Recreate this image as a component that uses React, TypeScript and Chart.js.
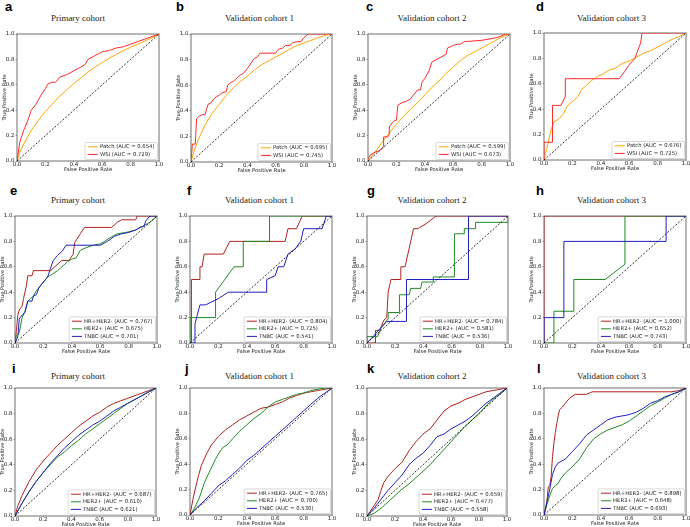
import React, { useEffect, useRef } from "react";
import { Chart, registerables } from "chart.js";

Chart.register(...registerables);

type Pt = [number, number];

// ---------- text / categories ----------
const xAxisTitle = "False Positive Rate";
const yAxisTitle = "True Positive Rate";
const tickValues = [0, 0.2, 0.4, 0.6, 0.8, 1.0];
const cohortTitles = ["Primary cohort", "Validation cohort 1", "Validation cohort 2", "Validation cohort 3"];
const panelLetters = ["a", "b", "c", "d", "e", "f", "g", "h", "i", "j", "k", "l"];
const modelNames = ["Patch", "WSI"];
const subtypeNames = ["HR+HER2-", "HER2+", "TNBC"];

// ---------- AUC values ----------
const aucA = [0.654, 0.729];
const aucB = [0.695, 0.745];
const aucC = [0.599, 0.673];
const aucD = [0.676, 0.725];
const aucE = [0.767, 0.675, 0.701];
const aucF = [0.804, 0.725, 0.541];
const aucG = [0.784, 0.581, 0.536];
const aucH = [1.0, 0.652, 0.743];
const aucI = [0.687, 0.61, 0.621];
const aucJ = [0.765, 0.7, 0.53];
const aucK = [0.659, 0.477, 0.558];
const aucL = [0.898, 0.648, 0.693];

// ---------- ROC curves [FPR, TPR] ----------
const aPatch: Pt[] = [[0,0],[0.02,0.07],[0.05,0.14],[0.1,0.24],[0.15,0.32],[0.2,0.39],[0.25,0.45],[0.3,0.51],[0.35,0.56],[0.4,0.61],[0.45,0.655],[0.5,0.7],[0.55,0.74],[0.6,0.775],[0.65,0.81],[0.7,0.84],[0.75,0.87],[0.8,0.895],[0.85,0.92],[0.9,0.945],[0.95,0.97],[1,1]];
const aWsi: Pt[] = [[0,0],[0.02,0.15],[0.05,0.25],[0.08,0.33],[0.1,0.4],[0.13,0.44],[0.15,0.48],[0.17,0.52],[0.2,0.57],[0.22,0.61],[0.25,0.62],[0.27,0.62],[0.28,0.63],[0.3,0.66],[0.35,0.68],[0.4,0.71],[0.45,0.74],[0.48,0.76],[0.5,0.8],[0.55,0.83],[0.6,0.86],[0.65,0.87],[0.7,0.89],[0.75,0.9],[0.8,0.92],[0.85,0.94],[0.9,0.96],[0.95,0.98],[1,1]];

const bPatch: Pt[] = [[0,0],[0.02,0.08],[0.05,0.17],[0.1,0.29],[0.15,0.38],[0.2,0.45],[0.25,0.52],[0.3,0.58],[0.35,0.63],[0.4,0.67],[0.45,0.72],[0.5,0.76],[0.55,0.79],[0.6,0.82],[0.65,0.85],[0.7,0.88],[0.75,0.91],[0.8,0.93],[0.85,0.95],[0.9,0.97],[0.95,0.99],[1,1]];
const bWsi: Pt[] = [[0,0],[0.01,0.14],[0.03,0.14],[0.04,0.34],[0.06,0.36],[0.08,0.37],[0.1,0.37],[0.11,0.41],[0.12,0.45],[0.14,0.46],[0.16,0.49],[0.18,0.51],[0.2,0.52],[0.22,0.54],[0.25,0.55],[0.26,0.6],[0.28,0.62],[0.3,0.63],[0.33,0.66],[0.35,0.68],[0.37,0.69],[0.4,0.73],[0.43,0.78],[0.45,0.81],[0.47,0.82],[0.49,0.85],[0.6,0.85],[0.62,0.88],[0.65,0.89],[0.67,0.91],[0.7,0.91],[0.72,0.93],[0.75,0.94],[0.78,0.94],[0.8,0.97],[0.83,1],[1,1]];

const cPatch: Pt[] = [[0,0],[0.05,0.07],[0.1,0.15],[0.15,0.22],[0.2,0.29],[0.25,0.35],[0.3,0.41],[0.35,0.46],[0.4,0.52],[0.45,0.58],[0.5,0.63],[0.55,0.69],[0.6,0.74],[0.65,0.79],[0.7,0.83],[0.75,0.86],[0.8,0.89],[0.85,0.92],[0.9,0.95],[0.95,0.98],[1,1]];
const cWsi: Pt[] = [[0,0],[0,0.02],[0.02,0.05],[0.05,0.07],[0.08,0.08],[0.11,0.11],[0.11,0.19],[0.14,0.19],[0.15,0.21],[0.15,0.27],[0.17,0.3],[0.19,0.32],[0.2,0.32],[0.21,0.44],[0.24,0.46],[0.27,0.47],[0.3,0.49],[0.32,0.52],[0.35,0.56],[0.37,0.56],[0.38,0.62],[0.4,0.65],[0.43,0.71],[0.45,0.78],[0.5,0.81],[0.55,0.84],[0.56,0.89],[0.6,0.91],[0.63,0.92],[0.65,0.92],[0.68,0.94],[0.8,0.95],[0.9,0.97],[0.93,0.98],[0.97,1],[1,1]];

const dPatch: Pt[] = [[0,0],[0.01,0.05],[0.02,0.09],[0.03,0.14],[0.05,0.24],[0.07,0.3],[0.1,0.32],[0.12,0.34],[0.14,0.37],[0.16,0.42],[0.18,0.44],[0.2,0.46],[0.24,0.5],[0.26,0.55],[0.3,0.59],[0.34,0.63],[0.38,0.66],[0.42,0.68],[0.46,0.71],[0.5,0.72],[0.55,0.76],[0.6,0.78],[0.65,0.81],[0.7,0.84],[0.75,0.86],[0.8,0.89],[0.85,0.92],[0.9,0.95],[0.95,0.97],[1,1]];
const dWsi: Pt[] = [[0,0],[0,0.14],[0.06,0.14],[0.06,0.43],[0.12,0.43],[0.15,0.5],[0.15,0.64],[0.53,0.64],[0.57,0.7],[0.6,0.75],[0.64,0.8],[0.68,0.92],[0.69,1],[1,1]];

const eHr: Pt[] = [[0,0],[0.01,0.1],[0.02,0.22],[0.03,0.26],[0.05,0.29],[0.06,0.35],[0.08,0.45],[0.09,0.53],[0.12,0.53],[0.13,0.57],[0.25,0.57],[0.28,0.6],[0.33,0.65],[0.38,0.65],[0.41,0.7],[0.42,0.79],[0.46,0.86],[0.49,0.91],[0.68,0.91],[0.72,0.95],[0.75,0.97],[0.85,0.97],[0.86,1],[1,1]];
const eHer2: Pt[] = [[0,0],[0.01,0.06],[0.03,0.08],[0.05,0.2],[0.07,0.25],[0.09,0.33],[0.11,0.35],[0.13,0.37],[0.15,0.41],[0.18,0.45],[0.2,0.48],[0.23,0.52],[0.26,0.54],[0.3,0.57],[0.34,0.61],[0.37,0.64],[0.4,0.66],[0.43,0.67],[0.46,0.73],[0.5,0.75],[0.55,0.77],[0.6,0.78],[0.63,0.8],[0.67,0.83],[0.72,0.86],[0.78,0.87],[0.85,0.89],[0.9,0.92],[0.95,0.95],[1,1]];
const eTnbc: Pt[] = [[0,0],[0.02,0.05],[0.03,0.19],[0.05,0.22],[0.07,0.24],[0.09,0.33],[0.12,0.33],[0.13,0.37],[0.15,0.38],[0.17,0.44],[0.2,0.48],[0.23,0.52],[0.25,0.59],[0.27,0.65],[0.3,0.69],[0.33,0.72],[0.36,0.77],[0.6,0.77],[0.65,0.8],[0.7,0.84],[0.75,0.86],[0.8,0.87],[0.85,0.89],[0.88,0.91],[0.91,0.92],[0.92,0.96],[0.95,1],[1,1]];

const fHr: Pt[] = [[0,0],[0.01,0],[0.01,0.5],[0.07,0.5],[0.07,0.6],[0.085,0.6],[0.1,0.7],[0.235,0.7],[0.28,0.8],[0.67,0.8],[0.69,0.9],[0.75,0.9],[0.79,1],[1,1]];
const fHer2: Pt[] = [[0,0],[0,0.2],[0.18,0.2],[0.18,0.4],[0.31,0.6],[0.375,0.6],[0.375,0.8],[0.56,0.8],[0.56,1],[1,1]];
const fTnbc: Pt[] = [[0,0],[0.035,0],[0.035,0.15],[0.07,0.3],[0.11,0.3],[0.2,0.35],[0.27,0.4],[0.54,0.4],[0.54,0.5],[0.6,0.53],[0.62,0.6],[0.66,0.6],[0.69,0.7],[0.74,0.74],[0.78,0.8],[0.8,0.9],[0.93,0.9],[0.96,1],[1,1]];

const gHr: Pt[] = [[0,0],[0.06,0],[0.06,0.1],[0.09,0.1],[0.12,0.18],[0.14,0.2],[0.15,0.4],[0.17,0.5],[0.24,0.5],[0.24,0.6],[0.27,0.6],[0.33,0.9],[0.36,0.9],[0.42,0.94],[0.49,1],[1,1]];
const gHer2: Pt[] = [[0,0],[0,0.05],[0.075,0.05],[0.1,0.12],[0.15,0.19],[0.15,0.24],[0.23,0.24],[0.23,0.38],[0.3,0.38],[0.31,0.43],[0.38,0.43],[0.39,0.48],[0.47,0.48],[0.47,0.52],[0.62,0.52],[0.62,0.86],[0.69,0.86],[0.69,0.9],[0.77,0.9],[0.77,0.95],[1,0.95],[1,1]];
const gTnbc: Pt[] = [[0,0],[0.14,0.17],[0.28,0.17],[0.28,0.5],[0.72,0.5],[0.72,1],[1,1]];

const hHr: Pt[] = [[0,0],[0,1],[1,1]];
const hHer2: Pt[] = [[0,0],[0.07,0],[0.07,0.25],[0.21,0.25],[0.21,0.5],[0.43,0.5],[0.57,0.62],[0.57,1],[1,1]];
const hTnbc: Pt[] = [[0,0],[0,0.2],[0.14,0.2],[0.14,0.8],[0.86,0.8],[0.86,1],[1,1]];

const iHr: Pt[] = [[0,0],[0.02,0.08],[0.05,0.16],[0.1,0.27],[0.15,0.36],[0.2,0.43],[0.25,0.49],[0.3,0.55],[0.35,0.6],[0.4,0.65],[0.45,0.7],[0.5,0.74],[0.55,0.78],[0.6,0.81],[0.65,0.85],[0.7,0.88],[0.75,0.9],[0.8,0.92],[0.85,0.94],[0.9,0.96],[0.95,0.98],[1,1]];
const iHer2: Pt[] = [[0,0],[0.05,0.1],[0.1,0.19],[0.15,0.27],[0.2,0.34],[0.25,0.4],[0.3,0.46],[0.35,0.5],[0.4,0.55],[0.45,0.59],[0.5,0.64],[0.55,0.68],[0.6,0.72],[0.65,0.76],[0.7,0.8],[0.75,0.84],[0.8,0.88],[0.85,0.91],[0.9,0.94],[0.95,0.97],[1,1]];
const iTnbc: Pt[] = [[0,0],[0.05,0.1],[0.1,0.19],[0.15,0.27],[0.2,0.34],[0.25,0.41],[0.3,0.47],[0.35,0.53],[0.4,0.58],[0.45,0.63],[0.5,0.67],[0.55,0.71],[0.6,0.74],[0.65,0.78],[0.7,0.82],[0.75,0.85],[0.8,0.88],[0.85,0.91],[0.9,0.94],[0.95,0.97],[1,1]];

const jHr: Pt[] = [[0,0],[0.02,0.12],[0.04,0.22],[0.06,0.31],[0.08,0.39],[0.1,0.44],[0.12,0.49],[0.15,0.55],[0.2,0.62],[0.25,0.67],[0.3,0.71],[0.35,0.75],[0.4,0.78],[0.45,0.81],[0.5,0.84],[0.55,0.85],[0.6,0.87],[0.65,0.89],[0.7,0.92],[0.75,0.94],[0.8,0.96],[0.85,0.97],[0.9,0.98],[0.95,0.99],[1,1]];
const jHer2: Pt[] = [[0,0],[0.03,0.05],[0.06,0.12],[0.08,0.18],[0.1,0.25],[0.12,0.3],[0.15,0.37],[0.18,0.44],[0.2,0.48],[0.23,0.53],[0.26,0.55],[0.3,0.6],[0.35,0.66],[0.4,0.71],[0.45,0.76],[0.5,0.8],[0.55,0.85],[0.6,0.89],[0.65,0.91],[0.7,0.93],[0.75,0.95],[0.8,0.96],[0.85,0.98],[0.9,0.99],[0.95,1],[1,1]];
const jTnbc: Pt[] = [[0,0],[0.05,0.06],[0.1,0.11],[0.15,0.17],[0.2,0.23],[0.25,0.27],[0.3,0.32],[0.35,0.37],[0.4,0.43],[0.45,0.47],[0.5,0.52],[0.55,0.57],[0.6,0.62],[0.65,0.67],[0.7,0.72],[0.75,0.77],[0.8,0.82],[0.85,0.87],[0.9,0.92],[0.95,0.96],[1,1]];

const kHr: Pt[] = [[0,0],[0.05,0.08],[0.08,0.13],[0.1,0.2],[0.12,0.26],[0.15,0.31],[0.2,0.37],[0.25,0.42],[0.3,0.51],[0.35,0.58],[0.4,0.64],[0.45,0.68],[0.5,0.75],[0.55,0.82],[0.6,0.86],[0.65,0.88],[0.7,0.91],[0.75,0.93],[0.8,0.95],[0.85,0.97],[0.9,0.98],[0.95,0.99],[1,1]];
const kHer2: Pt[] = [[0,0],[0.05,0.02],[0.1,0.06],[0.15,0.11],[0.2,0.16],[0.25,0.21],[0.3,0.25],[0.35,0.3],[0.4,0.35],[0.45,0.4],[0.5,0.46],[0.55,0.52],[0.6,0.58],[0.65,0.64],[0.7,0.7],[0.75,0.75],[0.8,0.8],[0.85,0.86],[0.9,0.91],[0.95,0.95],[1,1]];
const kTnbc: Pt[] = [[0,0],[0.05,0.06],[0.1,0.13],[0.15,0.2],[0.2,0.26],[0.25,0.32],[0.3,0.4],[0.35,0.45],[0.4,0.49],[0.45,0.55],[0.5,0.62],[0.55,0.64],[0.6,0.68],[0.65,0.71],[0.7,0.74],[0.75,0.78],[0.8,0.83],[0.85,0.88],[0.9,0.92],[0.95,0.96],[1,1]];

const lHr: Pt[] = [[0,0],[0.02,0.1],[0.03,0.22],[0.04,0.23],[0.05,0.3],[0.06,0.46],[0.07,0.57],[0.08,0.65],[0.09,0.72],[0.1,0.78],[0.11,0.83],[0.13,0.85],[0.15,0.88],[0.18,0.92],[0.22,0.95],[0.3,0.95],[0.34,0.97],[0.6,0.97],[0.8,0.97],[0.9,0.97],[0.95,0.98],[1,1]];
const lHer2: Pt[] = [[0,0],[0.02,0.08],[0.04,0.15],[0.06,0.21],[0.08,0.23],[0.1,0.25],[0.12,0.29],[0.15,0.33],[0.2,0.38],[0.25,0.44],[0.3,0.53],[0.35,0.6],[0.4,0.64],[0.45,0.67],[0.5,0.69],[0.55,0.71],[0.6,0.74],[0.65,0.78],[0.7,0.82],[0.75,0.86],[0.8,0.89],[0.85,0.92],[0.9,0.95],[0.95,0.97],[1,1]];
const lTnbc: Pt[] = [[0,0],[0.02,0.1],[0.04,0.2],[0.06,0.32],[0.08,0.38],[0.1,0.41],[0.15,0.44],[0.2,0.5],[0.25,0.56],[0.3,0.63],[0.35,0.67],[0.4,0.71],[0.45,0.75],[0.5,0.77],[0.55,0.78],[0.6,0.79],[0.65,0.81],[0.7,0.84],[0.75,0.88],[0.8,0.9],[0.85,0.93],[0.9,0.95],[0.95,0.97],[1,1]];

const chanceLine: Pt[] = [[0, 0], [1, 1]];

// ---------- styles / layout ----------
const modelColors = ["#ffa500", "#ff2b2b"];
const subtypeColors = ["#b22222", "#228b22", "#2020c0"];
const SANS = '"DejaVu Sans", sans-serif';
const SERIF = '"Liberation Serif", "Times New Roman", serif';

// plot-area rectangles [left, top, right, bottom] in page pixels
const plotRects: number[][] = [
  [17, 34, 159, 161], [191, 34, 332, 162], [368, 34, 510, 161], [544, 33, 686, 159.5],
  [15, 216, 157, 343], [190, 216, 332, 342.5], [367, 216, 508, 343], [544, 216, 686, 343],
  [15, 388, 156, 516], [190, 388, 332, 515], [367, 388, 507, 516], [544, 388, 686, 515],
];
const letterLefts = [5, 176, 366, 536, 10, 187, 367, 536, 12, 185, 367, 537];
const rowLetterTops = [0, 184, 362];
const rowTitleTops = [13.5, 195.5, 371.5];
const colTitleCenters = [78, 259.5, 432, 611.5];

const Y_AXIS_W = 17;
const X_AXIS_H = 12;
const PAD_TOP = 6;
const PAD_RIGHT = 8;

type Series = { label: string; color: string; points: Pt[] };

const panelCurves: Pt[][][] = [
  [aPatch, aWsi], [bPatch, bWsi], [cPatch, cWsi], [dPatch, dWsi],
  [eHr, eHer2, eTnbc], [fHr, fHer2, fTnbc], [gHr, gHer2, gTnbc], [hHr, hHer2, hTnbc],
  [iHr, iHer2, iTnbc], [jHr, jHer2, jTnbc], [kHr, kHer2, kTnbc], [lHr, lHer2, lTnbc],
];
const panelAucs = [aucA, aucB, aucC, aucD, aucE, aucF, aucG, aucH, aucI, aucJ, aucK, aucL];

function buildSeries(idx: number): Series[] {
  const names = idx < 4 ? modelNames : subtypeNames;
  const colors = idx < 4 ? modelColors : subtypeColors;
  return panelCurves[idx].map((pts, i) => ({
    label: `${names[i]} (AUC = ${panelAucs[idx][i].toFixed(3)})`,
    color: colors[i],
    points: pts,
  }));
}

function makePlugin(series: Series[]) {
  return {
    id: "frameLegend",
    beforeDatasetsDraw(chart: any) {
      const { ctx, chartArea: a } = chart;
      ctx.save();
      ctx.strokeStyle = "#6e6e6e";
      ctx.lineWidth = 1;
      ctx.strokeRect(a.left, a.top, a.right - a.left, a.bottom - a.top);
      ctx.restore();
    },
    afterDatasetsDraw(chart: any) {
      const { ctx, chartArea: a } = chart;
      ctx.save();
      ctx.font = `5.3px ${SANS}`;
      const maxW = Math.max(...series.map((s) => ctx.measureText(s.label).width));
      const rowH = 7.6;
      const w = 15 + maxW + 3;
      const h = series.length * rowH + 1.8;
      const right = a.right - 1.5;
      const bottom = a.bottom - 1.5;
      const left = right - w;
      const top = bottom - h;
      const r = 1.5;
      ctx.beginPath();
      ctx.moveTo(left + r, top);
      ctx.lineTo(right - r, top);
      ctx.quadraticCurveTo(right, top, right, top + r);
      ctx.lineTo(right, bottom - r);
      ctx.quadraticCurveTo(right, bottom, right - r, bottom);
      ctx.lineTo(left + r, bottom);
      ctx.quadraticCurveTo(left, bottom, left, bottom - r);
      ctx.lineTo(left, top + r);
      ctx.quadraticCurveTo(left, top, left + r, top);
      ctx.closePath();
      ctx.fillStyle = "rgba(255,255,255,0.85)";
      ctx.fill();
      ctx.strokeStyle = "#cfcfcf";
      ctx.lineWidth = 0.8;
      ctx.stroke();
      series.forEach((s, i) => {
        const cy = top + 4.3 + i * rowH;
        ctx.beginPath();
        ctx.strokeStyle = s.color;
        ctx.lineWidth = 1;
        ctx.moveTo(left + 2.8, cy);
        ctx.lineTo(left + 12.8, cy);
        ctx.stroke();
        ctx.fillStyle = "#222";
        ctx.textBaseline = "middle";
        ctx.textAlign = "left";
        ctx.fillText(s.label, left + 15, cy + 0.3);
      });
      ctx.restore();
    },
  };
}

function RocPanel({ idx }: { idx: number }) {
  const ref = useRef<HTMLCanvasElement>(null);
  const [l, t, r, b] = plotRects[idx];
  const width = Math.round(r - l + Y_AXIS_W + PAD_RIGHT);
  const height = Math.round(b - t + PAD_TOP + X_AXIS_H);

  useEffect(() => {
    const series = buildSeries(idx);
    const n = series.length;
    const tickFont = { size: 5.5, family: SANS, lineHeight: 1 };
    const titleFont = { size: 5.2, family: SANS };
    const fmt = (v: any) => Number(v).toFixed(1);
    const datasets: any[] = series.map((s, i) => ({
      label: s.label,
      data: s.points.map(([x, y]) => ({ x, y })),
      borderColor: s.color,
      backgroundColor: s.color,
      borderWidth: 1,
      showLine: true,
      pointRadius: 0,
      fill: false,
      tension: 0,
      order: n - i + 1,
    }));
    datasets.push({
      label: "chance",
      data: chanceLine.map(([x, y]) => ({ x, y })),
      borderColor: "#000",
      borderWidth: 0.8,
      borderDash: [2, 1.6],
      showLine: true,
      pointRadius: 0,
      fill: false,
      order: 0,
    });
    const chart = new Chart(ref.current!, {
      type: "scatter",
      data: { datasets },
      options: {
        animation: false,
        responsive: false,
        events: [],
        layout: { padding: { left: 0, top: PAD_TOP, right: PAD_RIGHT, bottom: 0 } },
        plugins: { legend: { display: false }, tooltip: { enabled: false } },
        scales: {
          x: {
            type: "linear",
            min: 0,
            max: 1,
            afterFit: (s: any) => { s.height = X_AXIS_H; },
            afterBuildTicks: (s: any) => { s.ticks = tickValues.map((v) => ({ value: v })); },
            ticks: { autoSkip: false, maxRotation: 0, padding: -0.2, font: tickFont, color: "#222", callback: fmt },
            grid: { display: true, drawOnChartArea: false, drawTicks: true, tickLength: 1, color: "#555", lineWidth: 0.6 },
            border: { display: false },
            title: { display: true, text: xAxisTitle, font: titleFont, color: "#222", padding: { top: 0, bottom: 0 } },
          },
          y: {
            type: "linear",
            min: 0,
            max: 1,
            afterFit: (s: any) => { s.width = Y_AXIS_W; },
            afterBuildTicks: (s: any) => { s.ticks = tickValues.map((v) => ({ value: v })); },
            ticks: { autoSkip: false, padding: 1, font: tickFont, color: "#222", callback: fmt },
            grid: { display: true, drawOnChartArea: false, drawTicks: true, tickLength: 1.5, color: "#555", lineWidth: 0.6 },
            border: { display: false },
            title: { display: true, text: yAxisTitle, font: titleFont, color: "#222", padding: { top: 1.8, bottom: 0 } },
          },
        },
      } as any,
      plugins: [makePlugin(series)],
    });
    return () => chart.destroy();
  }, [idx]);

  return (
    <canvas
      ref={ref}
      width={width}
      height={height}
      style={{ position: "absolute", left: l - Y_AXIS_W, top: t - PAD_TOP, width, height }}
    />
  );
}

export default function App() {
  return (
    <div style={{ position: "absolute", left: 0, top: 0, width: 690, height: 527, overflow: "hidden", background: "#fff" }}>
      {panelLetters.map((letter, i) => {
        const row = Math.floor(i / 4);
        const col = i % 4;
        return (
          <React.Fragment key={letter}>
            <div
              style={{
                position: "absolute",
                left: letterLefts[i],
                top: rowLetterTops[row],
                fontFamily: '"Liberation Sans", Arial, sans-serif',
                fontWeight: "bold",
                fontSize: 13,
                lineHeight: "13px",
                color: "#000",
              }}
            >
              {letter}
            </div>
            <div
              style={{
                position: "absolute",
                left: colTitleCenters[col] - 60,
                width: 120,
                top: rowTitleTops[row],
                textAlign: "center",
                fontFamily: SERIF,
                fontSize: 9,
                lineHeight: "9px",
                color: "#222",
                whiteSpace: "nowrap",
              }}
            >
              {cohortTitles[col]}
            </div>
          </React.Fragment>
        );
      })}
      {panelLetters.map((letter, i) => (
        <RocPanel key={"p" + letter} idx={i} />
      ))}
    </div>
  );
}
